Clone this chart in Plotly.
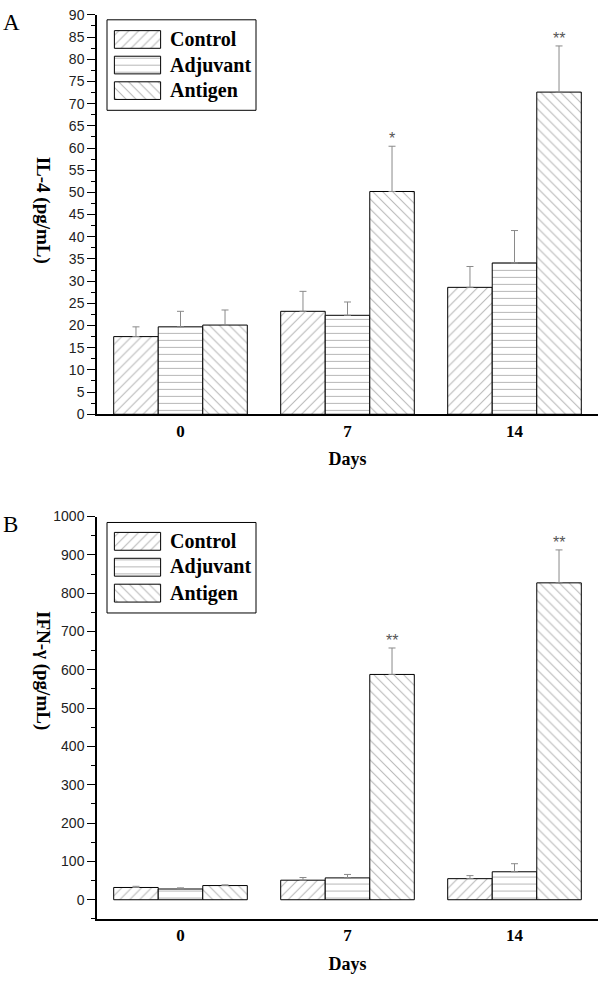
import plotly.graph_objects as go

days = ["0", "7", "14"]
groups = ["Control", "Adjuvant", "Antigen"]

il4_mean = {"Control": [17.5, 23.2, 28.6], "Adjuvant": [19.7, 22.3, 34.1], "Antigen": [20.1, 50.2, 72.6]}
il4_err = {"Control": [2.2, 4.5, 4.7], "Adjuvant": [3.5, 3.0, 7.3], "Antigen": [3.4, 10.2, 10.4]}
ifn_mean = {"Control": [32, 51, 55], "Adjuvant": [28, 57, 73], "Antigen": [37, 588, 827]}
ifn_err = {"Control": [3, 7, 8], "Adjuvant": [3, 9, 21], "Antigen": [2, 69, 86]}

il4_stars = ["", "*", "**"]
ifn_stars = ["", "**", "**"]

patterns = {"Control": "/", "Adjuvant": "-", "Antigen": "\\"}

SERIF = "Liberation Serif"
SANS = "Liberation Sans"
H = 981.0


def py(px):
    return 1 - px / H


def pattern(shape):
    return dict(shape=shape, fgcolor="#707070", bgcolor="white", size=7, solidity=0.15)


fig = go.Figure()


def add_panel(means, errs, xa, ya):
    for g in groups:
        fig.add_trace(go.Bar(
            x=days, y=means[g], name=g, xaxis=xa, yaxis=ya, showlegend=False,
            marker=dict(color="white", line=dict(color="black", width=1),
                        pattern=pattern(patterns[g])),
            error_y=dict(type="data", array=errs[g], arrayminus=[0, 0, 0], symmetric=False,
                         color="#8a8a8a", thickness=1, width=3.5),
        ))


add_panel(il4_mean, il4_err, "x", "y")
add_panel(ifn_mean, ifn_err, "x2", "y2")

# custom legend swatches (pattern-filled), one per panel
for xa, ya in (("x3", "y3"), ("x4", "y4")):
    fig.add_trace(go.Bar(
        y=groups, x=[1] * len(groups), orientation="h", xaxis=xa, yaxis=ya,
        showlegend=False, width=0.69, hoverinfo="skip",
        marker=dict(color="white", line=dict(color="black", width=1),
                    pattern=dict(shape=[patterns[g] for g in groups], fgcolor="#707070",
                                 bgcolor="white", size=7, solidity=0.15)),
    ))

annotations = []
shapes = []
off = 0.8 / 3
star_font = dict(family=SANS, size=16, color="#555")
for i, s in enumerate(il4_stars):
    if s:
        annotations.append(dict(x=i + off, y=il4_mean["Antigen"][i] + il4_err["Antigen"][i],
                                xref="x", yref="y", text=s, showarrow=False, yanchor="bottom",
                                yshift=-3, font=star_font))
for i, s in enumerate(ifn_stars):
    if s:
        annotations.append(dict(x=i + off, y=ifn_mean["Antigen"][i] + ifn_err["Antigen"][i],
                                xref="x2", yref="y2", text=s, showarrow=False, yanchor="bottom",
                                yshift=-3, font=star_font))

annotations += [
    dict(x=1 / 600, y=py(15), xref="paper", yref="paper", text="A", showarrow=False,
         xanchor="left", yanchor="middle", font=dict(family=SERIF, size=23, color="black")),
    dict(x=1 / 600, y=py(525), xref="paper", yref="paper", text="B", showarrow=False,
         xanchor="left", yanchor="middle", font=dict(family=SERIF, size=23, color="black")),
    dict(x=43 / 600, y=py(205), xref="paper", yref="paper", text="<b>IL-4 (pg/mL)</b>",
         showarrow=False, textangle=90, xanchor="center", yanchor="middle",
         font=dict(family=SERIF, size=19, color="black")),
    dict(x=43 / 600, y=py(673), xref="paper", yref="paper", text="<b>IFN-γ (pg/mL)</b>",
         showarrow=False, textangle=90, xanchor="center", yanchor="middle",
         font=dict(family=SERIF, size=19, color="black")),
]

# legend frames and labels
for top, rows in ((12, [32, 58, 84]), (523, [541.5, 568, 595])):
    shapes.append(dict(type="rect", xref="paper", yref="paper",
                       x0=107 / 600, x1=256 / 600, y0=py(top + 92), y1=py(top),
                       line=dict(color="black", width=1), fillcolor="rgba(0,0,0,0)", layer="above"))
    for g, r in zip(groups, rows):
        annotations.append(dict(x=168 / 600, y=py(r), xref="paper", yref="paper",
                                text="<b>%s</b>" % g, showarrow=False, xanchor="left",
                                yanchor="middle",
                                font=dict(family=SERIF, size=20, color="black")))

xcommon = dict(domain=[97 / 600, 598 / 600], showline=True, linecolor="black", linewidth=2,
               ticks="", tickfont=dict(family=SERIF, size=17, color="black", weight="bold"),
               showgrid=False, zeroline=False, range=[-0.5, 2.5], type="category",
               title=dict(text="<b>Days</b>", font=dict(family=SERIF, size=18, color="black"),
                          standoff=13))
ycommon = dict(showline=True, linecolor="black", linewidth=1.5, ticks="outside", ticklen=8,
               tickwidth=1, tickcolor="black", showgrid=False, zeroline=False,
               tickfont=dict(family=SANS, size=14, color="#222"))

swx = dict(domain=[113 / 600, 162 / 600], range=[-0.03, 1.03], visible=False, fixedrange=True)
swy = dict(type="category", categoryorder="array", categoryarray=groups,
           autorange="reversed", visible=False, fixedrange=True)

fig.update_layout(
    width=600, height=981, margin=dict(l=0, r=0, t=0, b=0),
    paper_bgcolor="white", plot_bgcolor="white",
    barmode="group", bargap=0.2, bargroupgap=0, showlegend=False,
    xaxis=dict(**xcommon, anchor="y"),
    xaxis2=dict(**xcommon, anchor="y2"),
    yaxis=dict(**ycommon, domain=[py(413), py(7)], range=[0, 90], dtick=5, anchor="x",
               minor=dict(ticks="outside", ticklen=4, dtick=2.5, tickcolor="black")),
    yaxis2=dict(**ycommon, domain=[py(926), py(517)], range=[-50, 1000], tick0=0, dtick=100,
                anchor="x2",
                minor=dict(ticks="outside", ticklen=4, dtick=50, tick0=0, tickcolor="black")),
    xaxis3=dict(**swx, anchor="y3"),
    yaxis3=dict(**swy, domain=[py(97), py(19)], anchor="x3"),
    xaxis4=dict(**swx, anchor="y4"),
    yaxis4=dict(**swy, domain=[py(608), py(529)], anchor="x4"),
    annotations=annotations,
    shapes=shapes,
)

fig.write_html("out.html", config={"displayModeBar": False},
               post_script="document.body.style.margin='0';")
